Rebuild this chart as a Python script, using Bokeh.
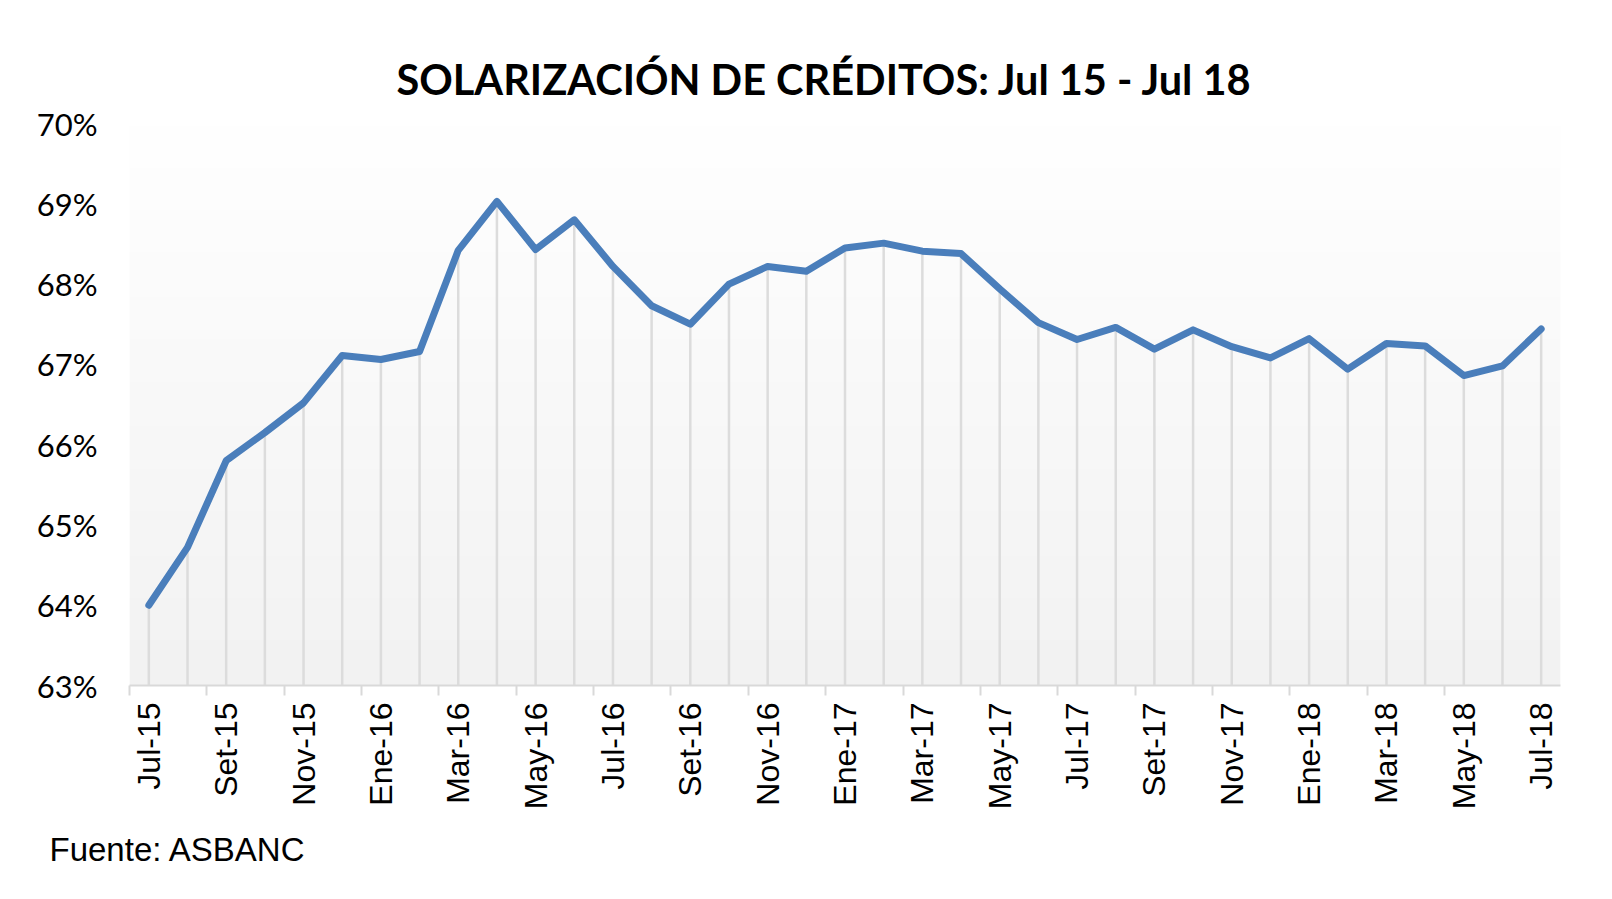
import numpy as np
from bokeh.plotting import figure
from bokeh.models import FixedTicker, Title
from bokeh.embed import file_html
from bokeh.resources import INLINE

# ---- data ----
months = ["Jul-15", "Ago-15", "Set-15", "Oct-15", "Nov-15", "Dic-15",
          "Ene-16", "Feb-16", "Mar-16", "Abr-16", "May-16", "Jun-16",
          "Jul-16", "Ago-16", "Set-16", "Oct-16", "Nov-16", "Dic-16",
          "Ene-17", "Feb-17", "Mar-17", "Abr-17", "May-17", "Jun-17",
          "Jul-17", "Ago-17", "Set-17", "Oct-17", "Nov-17", "Dic-17",
          "Ene-18", "Feb-18", "Mar-18", "Abr-18", "May-18", "Jun-18",
          "Jul-18"]
solarizacion = [64.00, 64.72, 65.80, 66.15, 66.52, 67.11,
                67.06, 67.16, 68.42, 69.03, 68.43, 68.80,
                68.22, 67.73, 67.50, 68.00, 68.22, 68.16,
                68.45, 68.51, 68.41, 68.38, 67.94, 67.52,
                67.31, 67.46, 67.19, 67.43, 67.22, 67.08,
                67.32, 66.94, 67.26, 67.23, 66.86, 66.98,
                67.44]
y_ticks = [63, 64, 65, 66, 67, 68, 69, 70]
y_tick_labels = ["63%", "64%", "65%", "66%", "67%", "68%", "69%", "70%"]
title_text = "SOLARIZACIÓN DE CRÉDITOS: Jul 15 - Jul 18"
source_text = "Fuente: ASBANC"

idx = list(range(len(months)))
label_idx = idx[::2]

W, H = 1596, 883
BL, BR, BT, BB = 129, 36, 123, 193
p = figure(width=W, height=H, output_backend="svg", toolbar_location=None,
           x_range=(-0.5, len(months) - 0.5), y_range=(63, 70),
           min_border_left=BL, min_border_right=BR,
           min_border_top=BT, min_border_bottom=BB)
p.outline_line_color = None
p.background_fill_color = "white"
p.border_fill_color = "white"
p.grid.visible = False

# gradient plot-area background (white at top -> light gray at bottom)
n = 200
t = np.linspace(0.0, 1.0, n)  # 0 = bottom, 1 = top
g = (242 + (255 - 242) * t).astype(np.uint32)
img = np.empty((n, 1), dtype=np.uint32)
view = img.view(dtype=np.uint8).reshape((n, 1, 4))
view[:, 0, 0] = g
view[:, 0, 1] = g
view[:, 0, 2] = g
view[:, 0, 3] = 255
p.image_rgba(image=[img], x=-0.5, y=63, dw=len(months), dh=7)

# drop lines
p.segment(x0=idx, y0=[63] * len(idx), x1=idx, y1=solarizacion,
          line_color="#dcdcdc", line_width=2.5)

# main line
p.line(idx, solarizacion, line_color="#4a7ebb", line_width=7,
       line_join="round", line_cap="round")

# x axis
xa = p.xaxis[0]
xa.ticker = FixedTicker(ticks=label_idx,
                        minor_ticks=[i - 0.5 for i in label_idx[:-1]])
xa.major_label_overrides = {i: months[i] for i in label_idx}
xa.major_label_orientation = np.pi / 2
xa.major_tick_line_color = None
xa.major_tick_out = 0
xa.major_tick_in = 0
xa.minor_tick_line_color = "#d9d9d9"
xa.minor_tick_line_width = 2
xa.minor_tick_out = 10
xa.minor_tick_in = 0
xa.axis_line_color = "#d9d9d9"
xa.axis_line_width = 2
xa.major_label_standoff = 7
xa.major_label_text_font = "Liberation Sans"
xa.major_label_text_font_size = "32px"
xa.major_label_text_color = "black"

# y axis
ya = p.yaxis[0]
ya.ticker = FixedTicker(ticks=y_ticks)
ya.major_label_overrides = {v: s for v, s in zip(y_ticks, y_tick_labels)}
ya.axis_line_color = None
ya.major_tick_line_color = None
ya.minor_tick_line_color = None
ya.major_tick_out = 0
ya.major_tick_in = 0
ya.major_label_standoff = 32
ya.major_label_text_font = "Lato"
ya.major_label_text_font_size = "31px"
ya.major_label_text_color = "black"

# title and source
p.add_layout(Title(text=title_text, align="left", offset=267, standoff=39,
                   text_font="Lato", text_font_style="bold",
                   text_font_size="41.5px", text_color="black"), "above")
p.add_layout(Title(text=source_text, align="left", offset=-80, standoff=32,
                   text_font="Liberation Sans", text_font_style="normal",
                   text_font_size="33px", text_line_height=0.6,
                   text_color="black"), "below")

open("out.html", "w").write(file_html(p, INLINE))
